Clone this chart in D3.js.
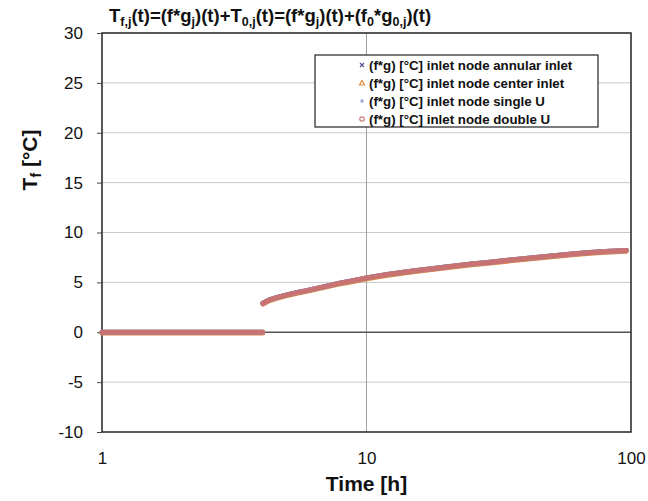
<!DOCTYPE html>
<html>
<head>
<meta charset="utf-8">
<script src="https://cdn.jsdelivr.net/npm/d3@7"></script>
<style>
  body { margin: 0; background: #fff; }
  svg text { font-family: "Liberation Sans", Arial, sans-serif; }
</style>
</head>
<body>
<svg id="chart" width="648" height="501"></svg>
<script>
// time axis points [h] and fluid temperature [°C]
const timeH = [1, 2, 3, 4.05, 4.06, 4.3, 4.6, 5, 5.5, 6, 7, 8, 9, 10, 12, 15, 20, 25, 30, 40, 50, 60, 70, 80, 96];
const tempC = [0, 0, 0, 0, 2.9, 3.25, 3.5, 3.75, 4.0, 4.2, 4.6, 4.95, 5.2, 5.45, 5.8, 6.15, 6.55, 6.85, 7.05, 7.4, 7.65, 7.85, 8.0, 8.1, 8.2];

const seriesNames = [
  "(f*g) [°C] inlet node annular inlet",
  "(f*g) [°C] inlet node center inlet",
  "(f*g) [°C] inlet node single U",
  "(f*g) [°C] inlet node double U"
];
const seriesColors = ["#5a4f8f", "#e0883a", "#8a96c8", "#c87272"];
const seriesSymbols = ["x", "tri", "plus", "circle"];

const yTicks = [-10, -5, 0, 5, 10, 15, 20, 25, 30];
const xTicks = [1, 10, 100];

const svg = d3.select("#chart");
const pLeft = 102, pRight = 631, pTop = 33, pBottom = 432;

const x = d3.scaleLog().domain([1, 100]).range([pLeft, pRight]);
const y = d3.scaleLinear().domain([-10, 30]).range([pBottom, pTop]);

// horizontal grid
svg.append("g").selectAll("line")
  .data(yTicks.filter(d => d !== -10 && d !== 30 && d !== 0))
  .join("line")
  .attr("x1", pLeft).attr("x2", pRight)
  .attr("y1", d => y(d)).attr("y2", d => y(d))
  .attr("stroke", "#c8c8c8").attr("stroke-width", 1);

// vertical grid at 10
svg.append("line")
  .attr("x1", x(10)).attr("x2", x(10))
  .attr("y1", pTop).attr("y2", pBottom)
  .attr("stroke", "#a0a0a0").attr("stroke-width", 1);

// zero line
svg.append("line")
  .attr("x1", pLeft).attr("x2", pRight)
  .attr("y1", y(0)).attr("y2", y(0))
  .attr("stroke", "#555").attr("stroke-width", 1.5);

// plot frame
svg.append("rect")
  .attr("x", pLeft).attr("y", pTop)
  .attr("width", pRight - pLeft).attr("height", pBottom - pTop)
  .attr("fill", "none").attr("stroke", "#222").attr("stroke-width", 1.5);

// y ticks
const yAxis = d3.axisLeft(y).tickValues(yTicks).tickFormat(d => String(d)).tickSize(5).tickPadding(14);
const gy = svg.append("g").attr("transform", `translate(${pLeft},0)`).call(yAxis);
gy.select(".domain").remove();
gy.selectAll("line").attr("stroke", "#444");
gy.selectAll("text").attr("font-size", 17).attr("fill", "#111")
  .style("font-family", "'Liberation Sans', Arial, sans-serif");

// x ticks
const xAxis = d3.axisBottom(x).tickValues(xTicks).tickFormat(d3.format("d")).tickSize(0).tickPadding(20);
const gx = svg.append("g").attr("transform", `translate(0,${pBottom})`).call(xAxis);
gx.select(".domain").remove();
gx.selectAll("text").attr("font-size", 17).attr("fill", "#111")
  .style("font-family", "'Liberation Sans', Arial, sans-serif");

// data lines (the four series coincide)
const pts = timeH.map((t, i) => [t, tempC[i]]);
const line = d3.line().x(d => x(d[0])).y(d => y(d[1]));
const jump = 4;
const pieces = [pts.slice(0, jump), pts.slice(jump)];
seriesColors.forEach((c, k) => {
  pieces.forEach(p => {
    svg.append("path")
      .datum(p)
      .attr("d", line)
      .attr("fill", "none")
      .attr("stroke", c)
      .attr("stroke-width", 5)
      .attr("stroke-linecap", "round")
      .attr("transform", k === 1 ? "translate(0,0.8)" : null);
  });
});

// title
const title = svg.append("text").attr("x", 109).attr("y", 22)
  .attr("font-size", 18.5).attr("font-weight", "bold").attr("fill", "#111");
const parts = [
  ["T", 0], ["f,j", 1], ["(t)=(f*g", 0], ["j", 1], [")(t)+T", 0], ["0,j", 1],
  ["(t)=(f*g", 0], ["j", 1], [")(t)+(f", 0], ["0", 1], ["*g", 0], ["0,j", 1], [")(t)", 0]
];
parts.forEach(([s, sub]) => {
  title.append("tspan").text(s)
    .attr("font-size", sub ? 12.5 : 18.5)
    .attr("baseline-shift", sub ? "-30%" : null);
});

// axis titles
svg.append("text")
  .attr("x", x(10)).attr("y", 491)
  .attr("text-anchor", "middle").attr("font-size", 21).attr("font-weight", "bold")
  .attr("fill", "#111").text("Time [h]");

const ylab = svg.append("text")
  .attr("transform", "translate(37,160) rotate(-90)")
  .attr("text-anchor", "middle").attr("font-size", 21).attr("font-weight", "bold").attr("fill", "#111");
ylab.append("tspan").text("T");
ylab.append("tspan").text("f").attr("font-size", 14).attr("baseline-shift", "-30%");
ylab.append("tspan").text(" [°C]");

// legend
const lg = svg.append("g").attr("transform", "translate(315,55)");
lg.append("rect").attr("width", 283).attr("height", 72)
  .attr("fill", "#fff").attr("stroke", "#222").attr("stroke-width", 1.2);
seriesNames.forEach((name, i) => {
  const cy = 10 + i * 18;
  const c = seriesColors[i];
  const sym = seriesSymbols[i];
  const mx = 47;
  const gm = lg.append("g").attr("transform", `translate(${mx},${cy})`);
  if (sym === "x") {
    gm.append("path").attr("d", "M-2,-2L2,2M-2,2L2,-2").attr("stroke", c).attr("stroke-width", 1.2);
  } else if (sym === "tri") {
    gm.append("path").attr("d", "M0,-2.5L2.5,2L-2.5,2Z").attr("fill", "none").attr("stroke", c).attr("stroke-width", 1.2);
  } else if (sym === "plus") {
    gm.append("path").attr("d", "M-2,0L2,0M0,-2L0,2").attr("stroke", c).attr("stroke-width", 1.2);
  } else {
    gm.append("circle").attr("r", 2.2).attr("fill", "none").attr("stroke", c).attr("stroke-width", 1.2);
  }
  lg.append("text").attr("x", 54).attr("y", cy + 4.5)
    .attr("font-size", 13.3).attr("font-weight", "bold").attr("fill", "#111").text(name);
});
</script>
</body>
</html>
